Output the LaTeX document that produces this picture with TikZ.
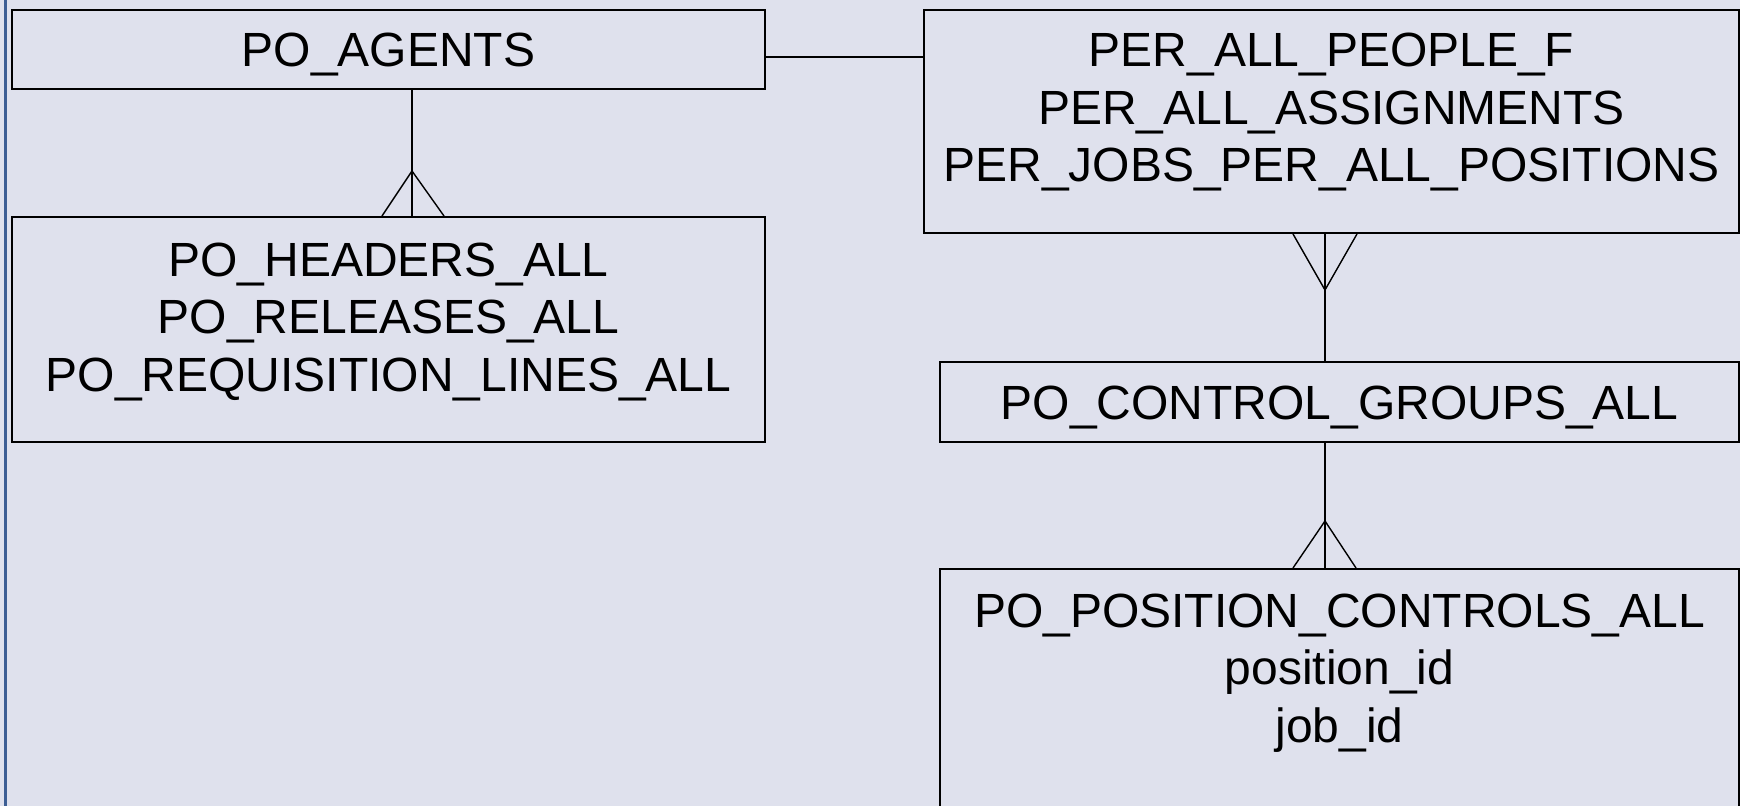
\documentclass[tikz,border=0pt]{standalone}
\usepackage{fontspec}
\setmainfont{Liberation Sans}
\usetikzlibrary{calc}
\definecolor{bgc}{HTML}{DFE1ED}
\definecolor{edgec}{HTML}{3D5E94}
\begin{document}
\begin{tikzpicture}[x=0.5pt,y=-0.5pt,
  box/.style={draw=black,line width=1pt,rectangle,inner sep=0pt},
  txt/.style={inner sep=0pt,anchor=base,font=\fontsize{24}{29}\selectfont},
  conn/.style={draw=black,line width=0.7pt}]
\fill[bgc] (0,0) rectangle (1740,806);
\useasboundingbox (0,0) rectangle (1740,806);
\draw[edgec,line width=1.5pt] (5,0) -- (5,806);
% boxes
\node[box,minimum width=376.5pt,minimum height=39.5pt] (A) at (388.5,49.5) {};
\node[box,minimum width=376.5pt,minimum height=112.5pt] (H) at (388.5,329.5) {};
\node[box,minimum width=407.5pt,minimum height=111.5pt] (P) at (1331.5,121.5) {};
\node[box,minimum width=399.5pt,minimum height=40pt] (CG) at (1339.5,402) {};
\node[box,minimum width=399.5pt,minimum height=130.5pt] (PC) at (1339.5,699.5) {};
% texts
\node[txt] (At) at (388.5,67) {PO\_AGENTS};
\node[txt] (H1) at (388.5,277) {PO\_HEADERS\_ALL};
\node[txt] (H2) at (388.5,334) {PO\_RELEASES\_ALL};
\node[txt] (H3) at (388.5,392) {PO\_REQUISITION\_LINES\_ALL};
\node[txt] (P1) at (1331.5,67) {PER\_ALL\_PEOPLE\_F};
\node[txt] (P2) at (1331.5,125) {PER\_ALL\_ASSIGNMENTS};
\node[txt] (P3) at (1331.5,182) {PER\_JOBS\_PER\_ALL\_POSITIONS};
\node[txt] (CGt) at (1339.5,420) {PO\_CONTROL\_GROUPS\_ALL};
\node[txt] (C1) at (1339.5,627) {PO\_POSITION\_CONTROLS\_ALL};
\node[txt] (C2) at (1339.5,684) {position\_id};
\node[txt] (C3) at (1339.5,742) {job\_id};
% connector guides
\coordinate (xL) at (412,0);
\coordinate (xR) at (1325,0);
\coordinate (yAP) at (0,57);
% connectors
\draw[conn] (A.east |- yAP) -- (P.west |- yAP);
\draw[conn] (A.south -| xL) -- (H.north -| xL);
\draw[conn] (H.north -| xL) ++(-30,0) -- ++(30,-45) -- ++(32,45);
\draw[conn] (P.south -| xR) -- (CG.north -| xR);
\draw[conn] (P.south -| xR) ++(-32,0) -- ++(32,56) -- ++(32,-56);
\draw[conn] (CG.south -| xR) -- (PC.north -| xR);
\draw[conn] (PC.north -| xR) ++(-32,0) -- ++(32,-47) -- ++(31,47);
\end{tikzpicture}
\end{document}
